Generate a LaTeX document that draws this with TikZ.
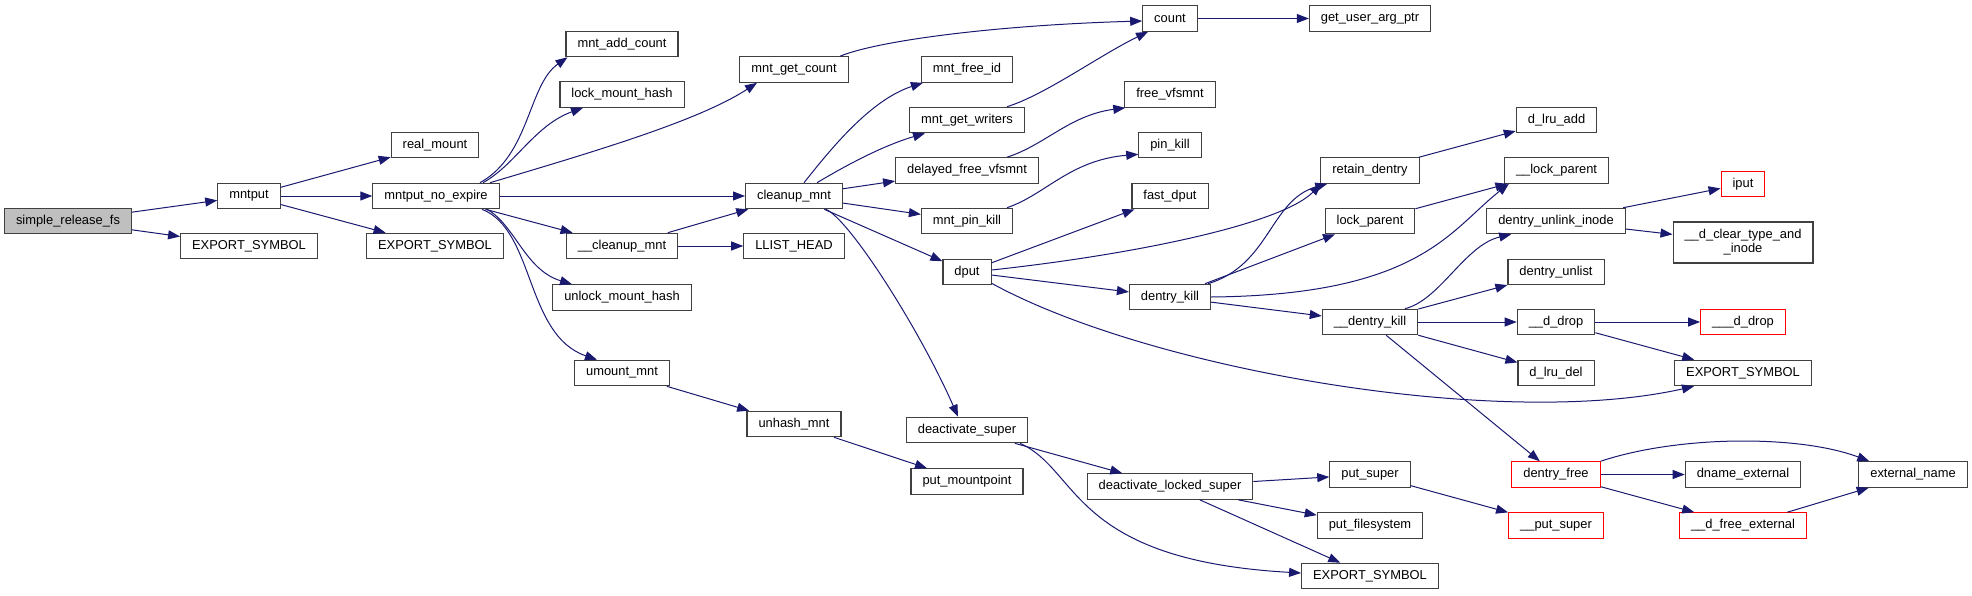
\documentclass[tikz,border=0pt]{standalone}
\usepackage{fontspec}
\setmainfont{Liberation Sans}
\usetikzlibrary{arrows.meta}
\definecolor{edgeNavy}{RGB}{25,25,112}
\definecolor{boxEdge}{RGB}{64,64,64}
\definecolor{rootGrey}{RGB}{191,191,191}
\definecolor{truncRed}{RGB}{255,0,0}
\tikzset{
  fn/.style={draw=boxEdge, fill=white, line width=1.1pt, rectangle, inner xsep=11.5pt, inner ysep=2pt,
    minimum height=25.5pt, align=center, font=\fontsize{12.9pt}{14pt}\selectfont},
  rootfn/.style={fn, fill=rootGrey},
  truncfn/.style={fn, draw=truncRed},
  call/.style={draw=edgeNavy, line width=1pt, -{Triangle[length=12pt,width=9pt]}},
}

\begin{document}
\begin{tikzpicture}[x=1pt,y=-1pt]
\useasboundingbox (0,0) rectangle (1972,595);

\node[rootfn] (srfs) at (68,221) {simple\_release\_fs};
\node[fn] (es1) at (249,246) {EXPORT\_SYMBOL};
\node[fn] (mntput) at (249,196) {mntput};
\node[fn] (realmount) at (435,145) {real\_mount};
\node[fn] (mne) at (436,196) {mntput\_no\_expire};
\node[fn] (es2) at (435,246) {EXPORT\_SYMBOL};
\node[fn] (mac) at (622,44) {mnt\_add\_count};
\node[fn] (lmh) at (622,94.5) {lock\_mount\_hash};
\node[fn] (ccm) at (622,246) {\_\_cleanup\_mnt};
\node[fn] (umh) at (622,297.5) {unlock\_mount\_hash};
\node[fn] (umnt) at (622,373) {umount\_mnt};
\node[fn] (mgc) at (794,69.5) {mnt\_get\_count};
\node[fn] (cm) at (794,196) {cleanup\_mnt};
\node[fn] (llh) at (794,246) {LLIST\_HEAD};
\node[fn] (uhm) at (794,424) {unhash\_mnt};
\node[fn] (count) at (1170,18.5) {count};
\node[fn] (guap) at (1370,18.5) {get\_user\_arg\_ptr};
\node[fn] (mfi) at (967,69.5) {mnt\_free\_id};
\node[fn] (mgw) at (967,120) {mnt\_get\_writers};
\node[fn] (dfv) at (967,170.5) {delayed\_free\_vfsmnt};
\node[fn] (mpk) at (967,221) {mnt\_pin\_kill};
\node[fn] (dput) at (967,272) {dput};
\node[fn] (dsup) at (967,430) {deactivate\_super};
\node[fn] (pmp) at (967,481.5) {put\_mountpoint};
\node[fn] (fvm) at (1170,94.5) {free\_vfsmnt};
\node[fn] (pkill) at (1170,145) {pin\_kill};
\node[fn] (fdput) at (1170,196) {fast\_dput};
\node[fn] (dkill) at (1170,297) {dentry\_kill};
\node[fn] (dls) at (1170,486.5) {deactivate\_locked\_super};
\node[fn] (retd) at (1370,170.5) {retain\_dentry};
\node[fn] (lockp) at (1370,221) {lock\_parent};
\node[fn] (udk) at (1370,322) {\_\_dentry\_kill};
\node[fn] (psup) at (1370,474.5) {put\_super};
\node[fn] (pfs) at (1370,525.5) {put\_filesystem};
\node[fn] (es4) at (1370,576) {EXPORT\_SYMBOL};
\node[fn] (dlruadd) at (1556.5,120) {d\_lru\_add};
\node[fn] (ulockp) at (1556.5,170.5) {\_\_lock\_parent};
\node[fn] (dui) at (1556,221) {dentry\_unlink\_inode};
\node[fn] (dunlist) at (1556,272) {dentry\_unlist};
\node[fn] (udrop) at (1556,322) {\_\_d\_drop};
\node[fn] (dlrudel) at (1556,373) {d\_lru\_del};
\node[truncfn] (dfree) at (1556,474.5) {dentry\_free};
\node[truncfn] (uputsup) at (1556,525.5) {\_\_put\_super};
\node[truncfn] (iput) at (1743,184) {iput};
\node[fn, minimum height=41pt] (dctai) at (1743,242.5) {\_\_d\_clear\_type\_and\\\_inode};
\node[truncfn] (uudrop) at (1743,322) {\_\_\_d\_drop};
\node[fn] (es3) at (1743,373) {EXPORT\_SYMBOL};
\node[fn] (dnext) at (1743,474.5) {dname\_external};
\node[truncfn] (udfe) at (1743,525.5) {\_\_d\_free\_external};
\node[fn] (extname) at (1913,474.5) {external\_name};

\draw[call] (srfs) -- (mntput);
\draw[call] (srfs) -- (es1);
\draw[call] (mntput) -- (realmount);
\draw[call] (mntput) -- (mne);
\draw[call] (mntput) -- (es2);
\draw[call] ([xshift=44pt]mne.north) .. controls (530,155) and (528,85) .. ([xshift=2pt]mac.south west);
\draw[call] ([xshift=47pt]mne.north) .. controls (515,165) and (535,125) .. ([xshift=-39pt]lmh.south);
\draw[call] ([xshift=54pt]mne.north) .. controls (600,150) and (700,120) .. ([xshift=-37pt]mgc.south);
\draw[call] (mne) -- (cm);
\draw[call] (mne) -- (ccm);
\draw[call] ([xshift=51pt]mne.south) .. controls (515,225) and (525,270) .. ([xshift=-50pt]umh.north);
\draw[call] ([xshift=46pt]mne.south) .. controls (535,230) and (525,335) .. ([xshift=-25pt]umnt.north);
\draw[call] (ccm) -- (cm);
\draw[call] (ccm) -- (llh);
\draw[call] (umnt) -- (uhm);
\draw[call] (uhm) -- (pmp);
\draw[call] ([xshift=46pt]mgc.north) .. controls (880,40) and (1000,25) .. ([yshift=-2.5pt]count.west);
\draw[call] (count) -- (guap);
\draw[call] ([xshift=10pt]cm.north) .. controls (830,150) and (870,100) .. ([xshift=2pt]mfi.south west);
\draw[call] ([xshift=23pt]cm.north) .. controls (850,163) and (885,145) .. ([xshift=-42pt]mgw.south);
\draw[call] (cm) -- (dfv);
\draw[call] (cm) -- (mpk);
\draw[call] (cm) -- (dput);
\draw[call] ([xshift=32pt]cm.south) .. controls (850,220) and (920,330) .. ([xshift=-9pt]dsup.north);
\draw[call] ([xshift=40pt]mgw.north) .. controls (1045,95) and (1100,55) .. ([xshift=-22pt]count.south);
\draw[call] ([xshift=40pt]dfv.north) .. controls (1045,145) and (1070,115) .. ([xshift=1pt]fvm.south west);
\draw[call] ([xshift=40pt]mpk.north) .. controls (1045,195) and (1070,160) .. ([yshift=4pt]pkill.south west);
\draw[call] (dput) -- (fdput);
\draw[call] ([yshift=2pt]dput.east) .. controls (1130,255) and (1280,225) .. ([xshift=1pt]retd.south west);
\draw[call] (dput) -- (dkill);
\draw[call] ([yshift=2pt]dput.south east) .. controls (1150,370) and (1500,430) .. ([xshift=-49pt]es3.south);
\draw[call] ([xshift=38pt]dkill.north) .. controls (1270,265) and (1270,200) .. ([xshift=7pt]retd.south west);
\draw[call] (dkill) -- (lockp);
\draw[call] (dkill.east) .. controls (1420,295) and (1450,230) .. ([xshift=5pt]ulockp.south west);
\draw[call] (dkill) -- (udk);
\draw[call] (retd) -- (dlruadd);
\draw[call] (lockp) -- (ulockp);
\draw[call] ([xshift=35pt]udk.north) .. controls (1440,300) and (1465,245) .. ([xshift=25pt]dui.south west);
\draw[call] (udk) -- (dunlist);
\draw[call] (udk) -- (udrop);
\draw[call] (udk) -- (dlrudel);
\draw[call] (udk) -- (dfree);
\draw[call] (dui) -- (iput);
\draw[call] (dui) -- (dctai);
\draw[call] (udrop) -- (uudrop);
\draw[call] (udrop) -- (es3);
\draw[call] (dsup) -- (dls);
\draw[call] ([xshift=53pt]dsup.south) .. controls (1080,470) and (1070,560) .. ([yshift=3pt]es4.west);
\draw[call] (dls) -- (psup);
\draw[call] (dls) -- (pfs);
\draw[call] (dls) -- (es4);
\draw[call] (psup) -- (uputsup);
\draw[call] (dfree.north east) .. controls (1680,435) and (1800,435) .. ([xshift=11pt]extname.north west);
\draw[call] (dfree) -- (dnext);
\draw[call] (dfree) -- (udfe);
\draw[call] (udfe) -- (extname);
\end{tikzpicture}
\end{document}
